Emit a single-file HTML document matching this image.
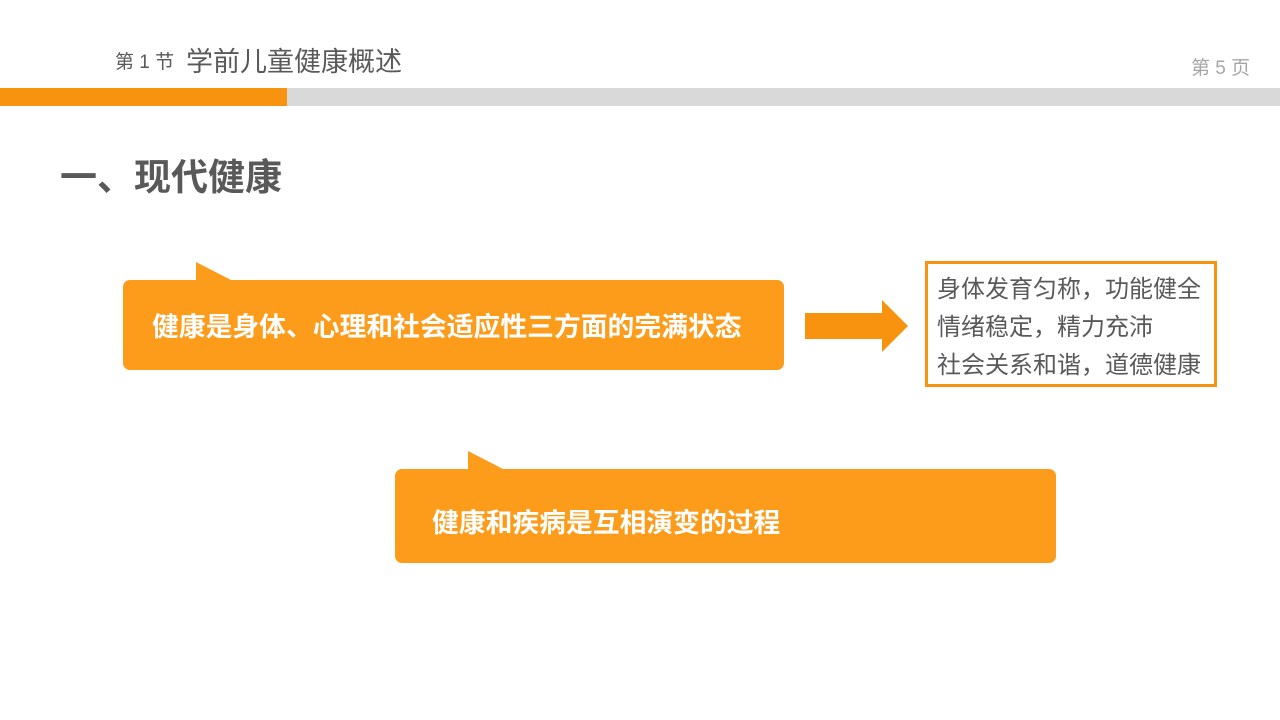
<!DOCTYPE html>
<html><head><meta charset="utf-8"><style>
body{margin:0;width:1280px;height:720px;background:#fff;position:relative;overflow:hidden;font-family:"Liberation Sans","Noto Sans CJK SC",sans-serif}
.a{position:absolute;white-space:nowrap}
.bub{position:absolute;background:#fd9b1b;border-radius:7px}
.bt{color:#fff;font-weight:bold;font-size:26.8px;line-height:30px}
</style></head><body>
<div class="a" style="left:115px;top:47px;font-size:19px;color:#595959">第 1 节</div>
<div class="a" style="left:186px;top:40px;font-size:27px;color:#595959">学前儿童健康概述</div>
<div class="a" style="left:1191px;top:53px;font-size:19px;color:#a6a6a6">第 5 页</div>
<div class="a" style="left:0;top:88px;width:287px;height:18px;background:#f7930e"></div>
<div class="a" style="left:287px;top:88px;width:993px;height:18px;background:#d9d9d9"></div>
<div class="a" style="left:60px;top:156px;font-size:37px;line-height:44px;font-weight:bold;color:#595959">一、现代健康</div>

<svg class="a" style="left:0;top:0" width="1280" height="720">
<polygon points="196,262 196,282 231,282 231,280" fill="#fd9b1b"/>
<polygon points="468,451 468,471 503,471 503,469" fill="#fd9b1b"/>
<polygon points="805,313 882,313 882,300 908,326 882,352 882,339 805,339" fill="#f7930e"/>
</svg>
<div class="bub" style="left:123px;top:280px;width:661px;height:90px"></div>
<div class="a bt" style="left:152px;top:312px">健康是身体、心理和社会适应性三方面的完满状态</div>
<div class="bub" style="left:395px;top:469px;width:661px;height:94px"></div>
<div class="a bt" style="left:432px;top:508px">健康和疾病是互相演变的过程</div>

<div class="a" style="left:925px;top:261px;width:286px;height:120px;border:3px solid #f7930e"></div>
<div class="a" style="left:937px;top:271px;font-size:24px;color:#595959;line-height:38px">身体发育匀称，功能健全<br>情绪稳定，精力充沛<br>社会关系和谐，道德健康</div>
</body></html>
